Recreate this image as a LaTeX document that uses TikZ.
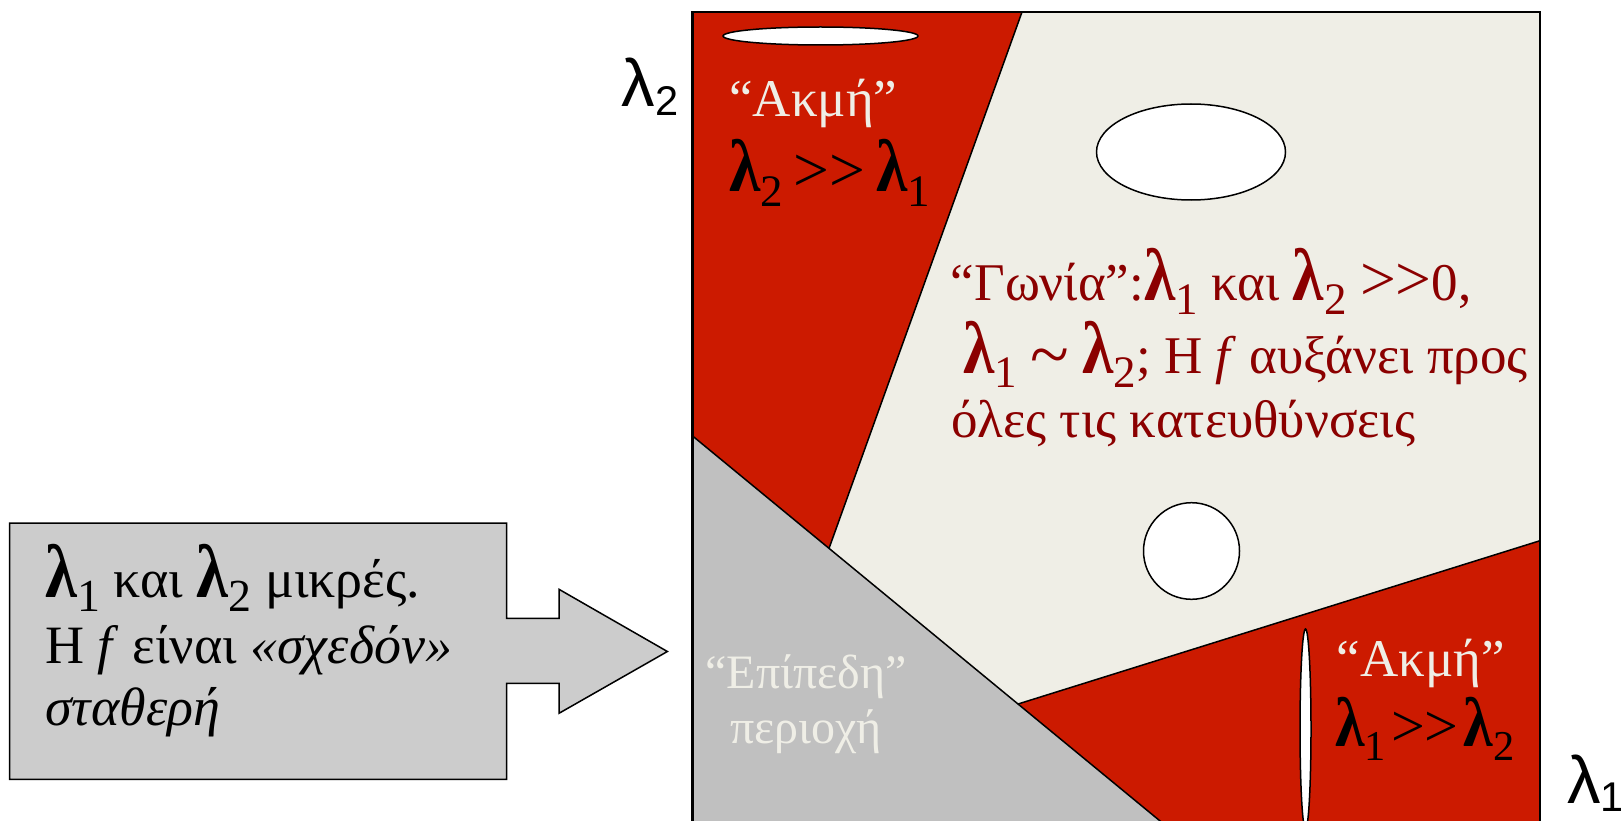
\documentclass[tikz,border=0pt]{standalone}
\usepackage{fontspec}
\usepackage{graphicx}
\setmainfont{Liberation Serif}
\newfontfamily\axfont{Liberation Sans}
\definecolor{edgered}{RGB}{204,26,0}
\definecolor{flatgray}{RGB}{192,192,192}
\definecolor{cornerbg}{RGB}{239,238,230}
\definecolor{boxgray}{RGB}{204,204,204}
\definecolor{darkred}{RGB}{139,0,0}
\definecolor{cream}{RGB}{239,238,230}
\newcommand{\lsub}[1]{\scalebox{1.2}[1.4]{\textbf{λ}}\raisebox{-0.27em}{\scalebox{0.85}{#1}}}
\newcommand{\ggt}{\scalebox{1.2}{>{}>}}
\newcommand{\simt}{\raisebox{-0.1em}{\scalebox{1.35}{\textasciitilde}}}
\newcommand{\axlam}[1]{{\axfont λ\raisebox{-0.13em}{\scalebox{0.62}{#1}}}}
\tikzset{
  region/.style={draw=black, line width=1.5},
  blob/.style={draw=black, fill=white, line width=1.5},
  txt/.style={anchor=base west, inner sep=0pt},
  ctxt/.style={anchor=base, inner sep=0pt},
}
\begin{document}
\begin{tikzpicture}[x=1pt,y=-1pt]
\useasboundingbox (0,0) rectangle (1621,821);
\coordinate (TL) at (692.6,12);
\coordinate (TR) at (1540,12);
\coordinate (A) at (1022,12);
\coordinate (B) at (829,548.4);
\coordinate (C) at (692.6,436);
\coordinate (D) at (1018,704);
\coordinate (E) at (1540,540.7);
\coordinate (F) at (1171,830);
\coordinate (BR) at (1540,830);
\coordinate (BL) at (692.6,830);
\begin{scope}
\clip (0,0) rectangle (1621,821);
\fill[edgered] (TL) -- (A) -- (B) -- (C) -- cycle;
\fill[cornerbg] (A) -- (TR) -- (E) -- (D) -- (B) -- cycle;
\fill[edgered] (D) -- (E) -- (BR) -- (F) -- cycle;
\fill[flatgray] (C) -- (B) -- (D) -- (F) -- (BL) -- cycle;
\draw[region] (A) -- (B);
\draw[region] (C) -- (F);
\draw[region] (D) -- (E);
\draw[line width=2.5] (BL) -- (TL) -- (TR) -- (BR);
\draw[blob] (820.5,36) ellipse [x radius=97.5, y radius=9];
\draw[blob] (1191,152) ellipse [x radius=94.5, y radius=48];
\draw[blob] (1191.5,551) ellipse [x radius=48, y radius=48.3];
\draw[blob] (1305.5,729) ellipse [x radius=5.5, y radius=100];
\end{scope}
% callout box
\draw[fill=boxgray, line width=1.5] (9.5,523) -- (506.7,523) -- (506.7,618.3) -- (559,618.3) -- (559,589.3)
  -- (667.4,651.5) -- (559,713.3) -- (559,683.3) -- (506.7,683.3) -- (506.7,779.3) -- (9.5,779.3) -- cycle;
\begin{scope}[every node/.style={txt, font=\fontsize{54}{60}\selectfont}]
\node (b1) at (45,597) {\lsub{1} και \lsub{2} μικρές.};
\node (b2) at (45,663) {Η \textit{f} είναι \textit{«σχεδόν»}};
\node (b3) at (45,725) {\textit{σταθερή}};
\end{scope}
% axis labels
\node[txt, font=\fontsize{67}{70}\selectfont] (ax2) at (621.7,106.7) {\axlam{2}};
\node[txt, font=\fontsize{67}{70}\selectfont] (ax1) at (1567,803) {\axlam{1}};
% top edge label
\node[txt, text=cream, font=\fontsize{53}{60}\selectfont] (e1) at (729,116.7) {“Ακμή”};
\node[txt, font=\fontsize{53}{60}\selectfont] (e1b) at (729,191.7) {\lsub{2}\hspace{0.2em}\ggt\hspace{0.2em}\lsub{1}};
% corner text
\begin{scope}[every node/.style={txt, text=darkred, font=\fontsize{53}{60}\selectfont}]
\node (c1) at (950.7,300) {“Γωνία”:\lsub{1} και \lsub{2} \ggt0,};
\node (c2) at (963,373) {\lsub{1} \simt{} \lsub{2}; Η \textit{f} αυξάνει προς};
\node (c3) at (951,437) {όλες τις κατευθύνσεις};
\end{scope}
% bottom edge label
\node[txt, text=cream, font=\fontsize{53}{60}\selectfont] (e2) at (1336.7,676.7) {“Ακμή”};
\node[txt, font=\fontsize{50}{60}\selectfont] (e2b) at (1335,746.7) {\lsub{1}\hspace{0.1em}\ggt\hspace{0.1em}\lsub{2}};
% flat label
\node[ctxt, text=cream, font=\fontsize{48}{52}\selectfont] (f1) at (806,688) {“Επίπεδη”};
\node[ctxt, text=cream, font=\fontsize{48}{52}\selectfont] (f2) at (806,743) {περιοχή};
\end{tikzpicture}
\end{document}
